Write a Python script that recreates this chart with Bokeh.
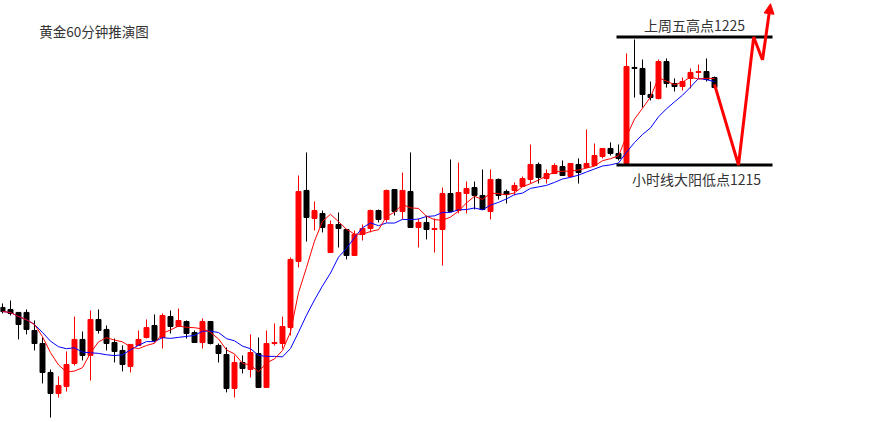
import pandas as pd
from bokeh.plotting import figure
from bokeh.models import ColumnDataSource, Range1d, Arrow, NormalHead, Label
from bokeh.embed import file_html
from bokeh.resources import INLINE

# ---- data (60-minute gold candles) ----
opens = [1203.87,1203.71,1203.48,1203.48,1202.07,1201.05,1198.79,1197.15,1197.69,1199.49,
         1201.37,1200.12,1202.93,1202.15,1201.13,1200.51,1199.26,1200.90,1201.52,1202.46,
         1201.52,1203.16,1202.38,1202.77,1201.91,1201.13,1202.77,1200.90,1200.19,1197.54,
         1199.57,1199.02,1200.27,1197.62,1201.05,1201.05,1202.30,1207.46,1213.01,1210.82,
         1211.21,1208.16,1210.35,1209.96,1207.93,1209.57,1210.04,1211.44,1210.74,1213.08,
         1211.37,1212.93,1210.12,1210.51,1209.96,1209.96,1212.77,1211.44,1212.77,1213.24,
         1212.62,1211.37,1213.87,1212.93,1213.01,1213.32,1213.87,1215.04,1213.94,1214.33,
         1214.88,1214.10,1215.04,1214.80,1214.96,1215.66,1216.29,1215.90,1215.12,1222.62,
         1222.54,1220.51,1220.19,1223.08,1221.37,1221.13,1221.76,1222.23,1222.30,1221.83]
highs = [1204.18,1204.41,1203.48,1203.71,1202.85,1201.52,1199.02,1198.48,1200.43,1203.16,
         1201.99,1203.63,1203.71,1202.46,1201.44,1200.90,1200.98,1202.07,1202.93,1203.32,
         1203.40,1203.63,1203.79,1202.85,1202.07,1203.01,1202.77,1201.05,1200.74,1200.12,
         1200.12,1201.76,1201.52,1202.07,1202.62,1203.16,1207.77,1214.18,1215.98,1212.15,
         1211.44,1210.66,1211.29,1209.96,1209.88,1210.35,1211.52,1211.52,1213.08,1213.08,
         1214.41,1215.98,1210.82,1211.05,1210.82,1213.24,1215.43,1215.19,1213.71,1213.71,
         1214.65,1214.65,1213.94,1213.08,1213.63,1214.10,1216.60,1215.19,1214.65,1215.12,
         1215.35,1215.12,1215.51,1217.77,1216.68,1216.29,1216.76,1216.60,1223.71,1224.80,
         1223.24,1221.52,1223.24,1223.32,1221.76,1221.83,1222.54,1222.85,1223.32,1221.91]
lows = [1203.40,1203.24,1201.37,1201.76,1200.51,1197.93,1195.27,1196.83,1197.30,1199.33,
        1199.73,1198.16,1201.83,1200.51,1199.57,1198.87,1198.79,1200.90,1201.44,1201.13,
        1200.66,1201.83,1202.38,1201.44,1201.13,1200.66,1200.98,1199.57,1197.23,1196.83,
        1198.71,1198.40,1197.62,1197.62,1200.90,1200.66,1201.68,1206.99,1209.02,1209.88,
        1209.73,1208.16,1208.55,1207.62,1207.93,1209.10,1209.73,1210.51,1210.51,1211.05,
        1210.74,1210.12,1208.55,1209.18,1208.16,1207.15,1211.37,1211.21,1211.21,1211.52,
        1211.52,1210.74,1212.30,1211.99,1212.62,1213.32,1213.55,1213.55,1213.55,1214.33,
        1214.18,1214.10,1213.55,1214.80,1214.96,1215.51,1215.74,1215.35,1215.04,1220.27,
        1219.49,1220.04,1220.12,1221.05,1220.74,1220.82,1220.98,1221.76,1221.52,1220.98]
closes = [1203.55,1203.40,1202.54,1202.15,1201.05,1198.79,1197.15,1197.77,1199.41,1201.37,
          1200.12,1202.93,1202.07,1201.05,1200.43,1199.41,1200.98,1201.37,1202.30,1201.29,
          1203.24,1202.38,1202.85,1201.83,1201.13,1202.77,1201.05,1200.27,1197.54,1199.57,
          1199.10,1200.35,1197.62,1201.05,1201.13,1202.38,1207.62,1212.93,1210.90,1211.44,
          1210.12,1210.35,1210.04,1207.93,1209.57,1210.04,1211.44,1210.74,1213.01,1211.37,
          1213.01,1210.12,1210.51,1209.96,1210.04,1212.77,1211.37,1212.85,1213.16,1212.62,
          1211.52,1213.87,1212.62,1212.69,1213.40,1213.94,1215.04,1214.02,1214.33,1214.96,
          1214.18,1215.12,1214.41,1215.12,1215.74,1216.29,1215.90,1215.51,1222.69,1222.54,
          1220.51,1220.27,1223.08,1221.37,1221.13,1221.52,1222.23,1222.30,1221.68,1221.05]

# key levels
high_level = 1225      # 上周五高点
low_level = 1215       # 小时线大阳低点
level_span = [77.75, 97.25]

# projected path (bar index, price)
proj_x = [90, 93, 94.9, 96]
proj_y = [1221.3, 1215.0, 1225.0, 1223.2]
arrow_tip = [97, 1227.6]

title_text = "黄金60分钟推演图"
high_text = "上周五高点1225"
low_text = "小时线大阳低点1215"

# ---- build ----
idx = list(range(1, len(closes) + 1))
df = pd.DataFrame({"x": idx, "open": opens, "high": highs, "low": lows, "close": closes})
df["top"] = df[["open", "close"]].max(axis=1)
df["bottom"] = df[["open", "close"]].min(axis=1)
df["color"] = ["#FF0000" if c >= o else "#000000" for o, c in zip(opens, closes)]
df["ma5"] = df["close"].rolling(5, min_periods=1).mean()
df["ma10"] = df["close"].rolling(10, min_periods=1).mean()
src = ColumnDataSource(df)

p = figure(width=879, height=422, output_backend="svg", toolbar_location=None,
           x_range=Range1d(0.75, 110.625), y_range=Range1d(1194.88, 1227.85),
           min_border=0, tools="")
p.axis.visible = False
p.grid.visible = False
p.outline_line_color = None
p.background_fill_color = "white"
p.border_fill_color = "white"

p.segment(x0="x", y0="low", x1="x", y1="high", color="color", line_width=1, source=src)
p.vbar(x="x", width=0.62, top="top", bottom="bottom", fill_color="color",
       line_color="color", line_width=1, source=src)

p.line(x="x", y="ma10", color="#0000FF", line_width=1, source=src)
p.line(x="x", y="ma5", color="#FF0000", line_width=1, source=src)

p.line(x=level_span, y=[high_level, high_level], color="black", line_width=3)
p.line(x=level_span, y=[low_level, low_level], color="black", line_width=3)

p.line(x=proj_x, y=proj_y, color="#FF0000", line_width=3)
p.add_layout(Arrow(end=NormalHead(size=10, fill_color="#FF0000", line_color="#FF0000"),
                   x_start=proj_x[-1], y_start=proj_y[-1], x_end=arrow_tip[0], y_end=arrow_tip[1],
                   line_color="#FF0000", line_width=3))

font = "Noto Sans CJK SC"
p.add_layout(Label(x=5.6, y=1225.47, text=title_text, text_font=font, text_font_size="13.5px",
                   text_color="#333333", text_baseline="middle", text_align="left"))
p.add_layout(Label(x=87.5, y=1225.9, text=high_text, text_font=font, text_font_size="14px",
                   text_color="#333333", text_baseline="middle", text_align="center"))
p.add_layout(Label(x=87.75, y=1213.94, text=low_text, text_font=font, text_font_size="14px",
                   text_color="#333333", text_baseline="middle", text_align="center"))

open("out.html", "w").write(file_html(p, INLINE))
